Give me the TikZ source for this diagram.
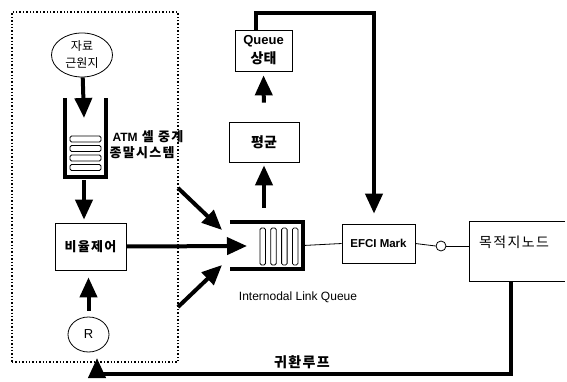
\documentclass[tikz,border=0pt]{standalone}
\usepackage{fontspec}
\setmainfont{Liberation Sans}
\newfontfamily\kr{Noto Sans CJK KR}
\newfontfamily\krw[LetterSpace=10]{Noto Sans CJK KR}
\usetikzlibrary{arrows.meta,shapes.geometric}

\begin{document}
\begin{tikzpicture}[x=1pt,y=-1pt,
    box/.style={draw, line width=0.7pt, inner sep=0pt},
    heavy/.style={line width=4pt, -{Triangle[length=20pt,width=17pt]}},
    thin/.style={line width=0.8pt}]
    \useasboundingbox (0,0) rectangle (567,382);

    % end system (dotted frame)
    \node[draw, dotted, line width=1.4pt, minimum width=166, minimum height=350] (sys) at (95,187) {};

    \node[draw, thin, ellipse, minimum width=61, minimum height=44, inner sep=0pt,
          align=center, font=\kr\fontsize{12}{17}\selectfont] (src) at (82,55) {자료\\근원지};

    \node[minimum width=41, minimum height=79, inner sep=0pt] (stack) at (85.5,137.5) {};
    \draw[line width=3.5pt] (stack.north west) -- (stack.south west) -- (stack.south east) -- (stack.north east);
    \foreach \i in {0,...,3}
      \draw[thin, rounded corners=1.5pt] (70,136+9.5*\i) rectangle (101,142+9.5*\i);
    \coordinate (stkin) at (84,118);
    \node[anchor=west, align=left, font=\bfseries\krw\fontsize{13}{16}\selectfont] (atm) at (106,145)
      {\hspace*{3pt}{\normalfont\bfseries\fontsize{12}{16}\selectfont ATM} 셀 중계\\종말시스템};

    \node[box, minimum width=71, minimum height=47, font=\bfseries\krw\fontsize{13}{14}\selectfont] (rate) at (90.5,246.5) {비율제어};
    \node[draw, thin, ellipse, minimum width=41, minimum height=35, inner sep=0pt,
          font=\fontsize{13}{14}\selectfont] (r) at (88.5,334.5) {R};

    \draw[heavy] (src) -- (stkin);
    \draw[heavy, shorten <=3pt, shorten >=3pt] (stack.south -| stkin) -- (rate.north -| stkin);
    \draw[heavy, shorten <=6pt, shorten >=7pt] (r.north) -- (rate.south -| r.north);

    % internodal link queue
    \node[minimum width=73, minimum height=47, inner sep=0pt] (lq) at (266.5,245.5) {};
    \draw[line width=3.5pt] (lq.north west) -- (lq.north east) -- (lq.south east) -- (lq.south west);
    \foreach \i in {0,...,3}
      \draw[thin, rounded corners=1.5pt] (260+10.8*\i,228) rectangle (265.5+10.8*\i,265);
    \node[font=\fontsize{12}{14}\selectfont] (lqlbl) at (298,297) {Internodal Link Queue};
    \coordinate (lqin) at (247,246);
    \coordinate (inA) at (178,188);
    \coordinate (inB) at (178,307);

    \draw[heavy] (rate.east) -- (lqin);
    \draw[heavy] (inA) -- (222,230);
    \draw[heavy] (inB) -- (222,265);

    \node[box, minimum width=70, minimum height=40, font=\kr\bfseries\fontsize{14}{16}\selectfont] (avg) at (264,142) {평균};
    \node[box, minimum width=57, minimum height=41, align=center,
          font=\bfseries\fontsize{13}{19}\selectfont] (qs) at (263.5,50.5) {Queue\\{\kr\fontsize{14}{19}\selectfont 상태}};
    \draw[heavy, shorten <=14pt, shorten >=3pt] (lq.north -| avg.south) -- (avg.south);
    \draw[heavy, shorten <=19pt, shorten >=4pt] (avg.north) -- (qs.south);

    \node[box, minimum width=73, minimum height=39, font=\bfseries\fontsize{11.5}{13}\selectfont] (efci) at (378.5,243.5) {EFCI Mark};
    \draw[thin] (lq.east) -- (efci.west);
    \coordinate (qtop) at (374,13);
    \draw[heavy, shorten >=10pt] ([xshift=-8pt]qs.north) |- (qtop) -- (qtop |- efci.north);

    % destination node
    \node[draw, thin, circle, minimum size=10, inner sep=0pt] (oc) at (441,246) {};
    \coordinate (dw) at (469,246);
    \draw[line width=0.7pt] (565,221) -- (469,221) -- (469,281) -- (565,281);
    \node[font=\krw\fontsize{14}{16}\selectfont] (dest) at (514,242) {목적지노드};
    \draw[thin] (efci.east) -- (oc.west);
    \draw[thin] (oc.east) -- (dw);

    % feedback loop
    \coordinate (fbout) at (511,281);
    \coordinate (fbc) at (97,374);
    \coordinate (fbin) at (97,358);
    \draw[line width=4pt] (fbout) |- (fbc);
    \draw[heavy] ([yshift=-2pt]fbc) -- (fbin);
    \node[font=\krw\bfseries\fontsize{14}{16}\selectfont] (fblbl) at (302,362) {귀환루프};
\end{tikzpicture}
\end{document}
